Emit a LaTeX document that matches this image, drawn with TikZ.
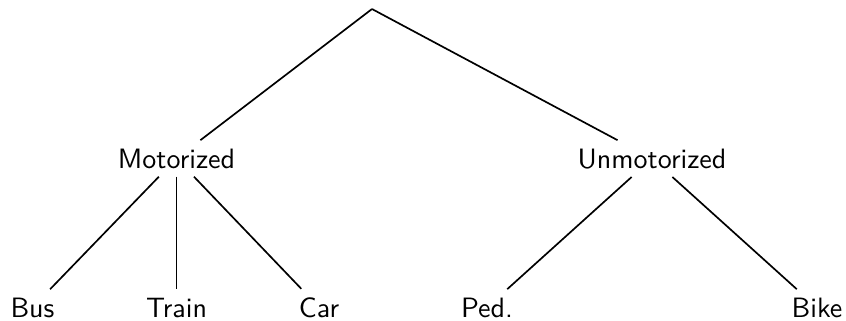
\documentclass[tikz,border=0pt]{standalone}
\renewcommand{\familydefault}{\sfdefault}
\begin{document}
\begin{tikzpicture}[x=0.3571pt, y=-0.3571pt, semithick,
    leaf/.style={anchor=base, inner ysep=2.7pt}]
  \useasboundingbox (0,0) rectangle (846,320);
  % top of the tree
  \coordinate (root) at (372,9);
  % second level
  \node[leaf] (motor) at (176.5,168) {Motorized};
  \node[leaf] (unmotor) at (652,168) {Unmotorized};
  % bottom level
  \node[leaf] (bus) at (32.5,317) {Bus};
  \node[leaf] (train) at (176.5,317) {Train};
  \node[leaf] (car) at (319,317) {Car};
  \node[leaf] (ped) at (487,317) {Ped.};
  \node[leaf] (bike) at (817,317) {Bike};
  % edges
  \draw (root) -- (motor);
  \draw (root) -- (unmotor);
  \draw (motor) -- (bus);
  \draw (motor) -- (train);
  \draw (motor) -- (car);
  \draw (unmotor) -- (ped);
  \draw (unmotor) -- (bike);
\end{tikzpicture}
\end{document}
